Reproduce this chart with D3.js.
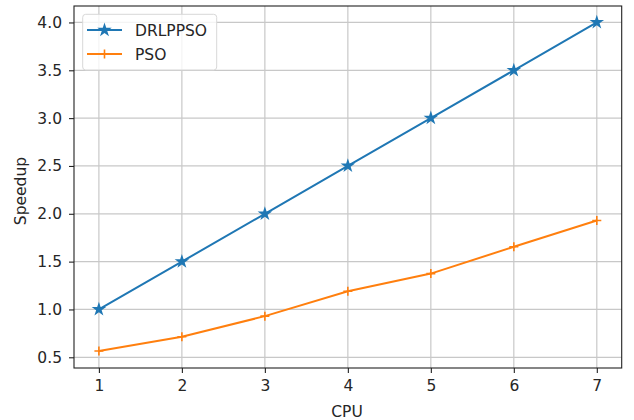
<!DOCTYPE html>
<html><head><meta charset="utf-8">
<script src="https://cdn.jsdelivr.net/npm/d3@7"></script>
<style>body{margin:0;background:#fff}svg{display:block}text{font-family:"DejaVu Sans",sans-serif;fill:#262626}</style>
</head><body><svg id="c" width="634" height="420"></svg>
<script>
const cpus = [1,2,3,4,5,6,7];
const drlppso = [1.0,1.5,2.0,2.5,3.0,3.5,4.0];
const pso = [0.565,0.715,0.93,1.19,1.375,1.655,1.93];
const xTicks = [1,2,3,4,5,6,7];
const yTicks = [0.5,1.0,1.5,2.0,2.5,3.0,3.5,4.0];
const seriesNames = ["DRLPPSO","PSO"];

const L=74,R=621.7,T=6,B=368,FS="15.5px";
const svg=d3.select("#c");
const x=d3.scaleLinear().domain([0.7,7.3]).range([L,R]);
const y=d3.scaleLinear().domain([0.388,4.172]).range([B,T]);
const grid="#c8c8c8";
// grid
svg.append("g").selectAll("line").data(xTicks).join("line")
 .attr("x1",d=>x(d)).attr("x2",d=>x(d)).attr("y1",T).attr("y2",B)
 .attr("stroke",grid).attr("stroke-width",1.2);
svg.append("g").selectAll("line").data(yTicks).join("line")
 .attr("y1",d=>y(d)).attr("y2",d=>y(d)).attr("x1",L).attr("x2",R)
 .attr("stroke",grid).attr("stroke-width",1.2);
// axes
const xa=svg.append("g").attr("transform",`translate(0,${B})`)
 .call(d3.axisBottom(x).tickValues(xTicks).tickFormat(d3.format("d")).tickSize(5).tickPadding(7));
const ya=svg.append("g").attr("transform",`translate(${L},0)`)
 .call(d3.axisLeft(y).tickValues(yTicks).tickFormat(d3.format(".1f")).tickSize(5).tickPadding(7));
[xa,ya].forEach(a=>{a.select(".domain").remove();a.selectAll("line").attr("stroke","#222").attr("stroke-width",1.1);
 a.selectAll("text").attr("font-size",FS).attr("fill","#262626");});
svg.append("rect").attr("x",L).attr("y",T).attr("width",R-L).attr("height",B-T)
 .attr("fill","none").attr("stroke","#222").attr("stroke-width",1.1);

const colors=["#1f77b4","#ff7f0e"];
const line=d3.line().x((d,i)=>x(cpus[i])).y(d=>y(d));
const star=d3.symbol().type(d3.symbolStar).size(65);
[drlppso,pso].forEach((s,k)=>{
 svg.append("path").datum(s).attr("d",line).attr("fill","none").attr("stroke",colors[k]).attr("stroke-width",2);
 const g=svg.append("g");
 s.forEach((v,i)=>{
  if(k===0){g.append("path").attr("d",star()).attr("transform",`translate(${x(cpus[i])},${y(v)})`).attr("fill",colors[k]);}
  else{g.append("path").attr("d",`M${x(cpus[i])-4.5},${y(v)}h9M${x(cpus[i])},${y(v)-4.5}v9`).attr("stroke",colors[k]).attr("stroke-width",1.6);}
 });
});
// legend
const lg=svg.append("g");
lg.append("rect").attr("x",82.7).attr("y",14.3).attr("width",134).attr("height",55.7).attr("rx",3)
 .attr("fill","#fff").attr("fill-opacity",0.8).attr("stroke","#d8d8d8");
seriesNames.forEach((n,k)=>{
 const yy=30+k*24;
 lg.append("line").attr("x1",87).attr("x2",122).attr("y1",yy).attr("y2",yy).attr("stroke",colors[k]).attr("stroke-width",2);
 if(k===0) lg.append("path").attr("d",star()).attr("transform",`translate(104.5,${yy})`).attr("fill",colors[k]);
 else lg.append("path").attr("d",`M100,${yy}h9M104.5,${yy-4.5}v9`).attr("stroke",colors[k]).attr("stroke-width",1.6);
 lg.append("text").attr("x",135).attr("y",yy+5.5).attr("font-size",FS).text(n);
});
svg.append("text").attr("x",347).attr("y",416.5).attr("text-anchor","middle").attr("font-size",FS).text("CPU");
svg.append("text").attr("transform",`translate(26,191) rotate(-90)`).attr("text-anchor","middle").attr("font-size",FS).text("Speedup");
</script></body></html>
